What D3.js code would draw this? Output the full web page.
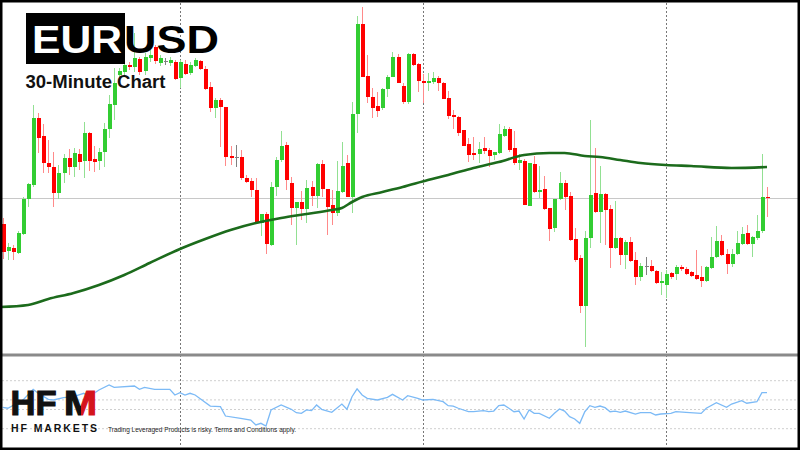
<!DOCTYPE html>
<html><head><meta charset="utf-8">
<script src="https://cdn.jsdelivr.net/npm/d3@7"></script>
<style>html,body{margin:0;padding:0;background:#fff;overflow:hidden}</style>
</head><body>
<svg id="c" width="800" height="450"></svg>
<script>
// ---- DATA (EURUSD, 30-minute candles) ----
const openP = [1.0776,1.0749,1.0752,1.0747,1.0766,1.0801,1.0815,1.0882,1.0864,1.0837,
1.0833,1.0807,1.0827,1.0842,1.0833,1.0846,1.0839,1.0867,1.0841,1.0839,
1.0848,1.0871,1.0895,1.0925,1.0928,1.0935,1.0933,1.0941,1.0929,1.0942,
1.0953,1.0937,1.0939,1.0937,1.0938,1.0922,1.0936,1.0927,1.0934,1.0939,
1.0931,1.0913,1.0892,1.0900,1.0893,1.0844,1.0843,1.0843,1.0822,1.0819,
1.0810,1.0777,1.0786,1.0755,1.0813,1.0840,1.0855,1.0817,1.0792,1.0798,
1.0791,1.0813,1.0804,1.0836,1.0811,1.0795,1.0787,1.0808,1.0837,1.0803,
1.0886,1.0976,1.0924,1.0903,1.0894,1.0892,1.0911,1.0923,1.0943,1.0914,
1.0898,1.0946,1.0936,1.0919,1.0917,1.0918,1.0922,1.0917,1.0902,1.0885,
1.0883,1.0870,1.0856,1.0847,1.0846,1.0852,1.0850,1.0845,1.0847,1.0864,
1.0871,1.0852,1.0837,1.0839,1.0794,1.0836,1.0808,1.0811,1.0792,1.0772,
1.0801,1.0817,1.0804,1.0761,1.0742,1.0694,1.0762,1.0807,1.0788,1.0806,
1.0791,1.0752,1.0762,1.0745,1.0758,1.0740,1.0723,1.0734,1.0734,1.0729,
1.0717,1.0715,1.0727,1.0726,1.0733,1.0731,1.0728,1.0725,1.0723,1.0719,
1.0732,1.0743,1.0759,1.0746,1.0736,1.0746,1.0756,1.0767,1.0756,1.0762,
1.0769,1.0803];
const highP = [1.0782,1.0757,1.0755,1.0769,1.0803,1.0817,1.0895,1.0887,1.0876,1.0860,
1.0848,1.0835,1.0846,1.0851,1.0852,1.0851,1.0878,1.0868,1.0854,1.0852,
1.0877,1.0905,1.0932,1.0932,1.0940,1.0938,1.0967,1.0943,1.0947,1.0950,
1.0955,1.0945,1.0942,1.0943,1.0940,1.0940,1.0940,1.0938,1.0942,1.0940,
1.0934,1.0918,1.0902,1.0902,1.0893,1.0854,1.0855,1.0850,1.0825,1.0822,
1.0822,1.0786,1.0788,1.0818,1.0843,1.0869,1.0858,1.0823,1.0798,1.0809,
1.0820,1.0819,1.0837,1.0840,1.0811,1.0810,1.0839,1.0858,1.0845,1.0898,
1.0984,1.0993,1.0945,1.0912,1.0908,1.0912,1.0925,1.0948,1.0946,1.0917,
1.0947,1.0947,1.0937,1.0926,1.0927,1.0928,1.0924,1.0918,1.0909,1.0890,
1.0884,1.0870,1.0862,1.0863,1.0858,1.0863,1.0852,1.0848,1.0876,1.0874,
1.0873,1.0869,1.0846,1.0841,1.0837,1.0844,1.0834,1.0824,1.0792,1.0801,
1.0828,1.0820,1.0808,1.0772,1.0745,1.0769,1.0880,1.0852,1.0834,1.0807,
1.0795,1.0799,1.0763,1.0760,1.0763,1.0748,1.0737,1.0743,1.0740,1.0730,
1.0728,1.0730,1.0728,1.0735,1.0735,1.0733,1.0729,1.0750,1.0734,1.0734,
1.0763,1.0774,1.0765,1.0751,1.0751,1.0769,1.0773,1.0775,1.0764,1.0785,
1.0846,1.0813];
const lowP = [1.0741,1.0740,1.0740,1.0746,1.0765,1.0793,1.0813,1.0847,1.0827,1.0827,
1.0793,1.0801,1.0817,1.0825,1.0823,1.0830,1.0822,1.0829,1.0828,1.0830,
1.0833,1.0862,1.0880,1.0916,1.0925,1.0930,1.0928,1.0925,1.0925,1.0938,
1.0936,1.0934,1.0935,1.0934,1.0920,1.0912,1.0925,1.0925,1.0933,1.0930,
1.0910,1.0888,1.0882,1.0853,1.0834,1.0835,1.0833,1.0820,1.0817,1.0803,
1.0777,1.0764,1.0746,1.0754,1.0804,1.0838,1.0810,1.0775,1.0755,1.0780,
1.0777,1.0794,1.0792,1.0803,1.0765,1.0775,1.0784,1.0807,1.0803,1.0787,
1.0867,1.0923,1.0897,1.0882,1.0883,1.0890,1.0903,1.0923,1.0917,1.0896,
1.0896,1.0934,1.0908,1.0897,1.0909,1.0916,1.0909,1.0901,1.0881,1.0871,
1.0864,1.0854,1.0838,1.0840,1.0837,1.0846,1.0833,1.0840,1.0846,1.0863,
1.0848,1.0835,1.0830,1.0795,1.0794,1.0807,1.0802,1.0790,1.0759,1.0768,
1.0800,1.0790,1.0759,1.0738,1.0687,1.0653,1.0752,1.0787,1.0757,1.0755,
1.0732,1.0751,1.0735,1.0731,1.0738,1.0715,1.0719,1.0725,1.0728,1.0716,
1.0705,1.0702,1.0721,1.0720,1.0729,1.0725,1.0723,1.0720,1.0713,1.0718,
1.0731,1.0742,1.0744,1.0726,1.0733,1.0745,1.0755,1.0755,1.0743,1.0760,
1.0767,1.0783];
const closeP = [1.0748,1.0753,1.0748,1.0767,1.0801,1.0816,1.0882,1.0862,1.0837,1.0833,
1.0807,1.0827,1.0842,1.0833,1.0847,1.0838,1.0867,1.0839,1.0838,1.0848,
1.0871,1.0896,1.0917,1.0929,1.0935,1.0933,1.0942,1.0928,1.0943,1.0945,
1.0939,1.0942,1.0939,1.0940,1.0921,1.0938,1.0926,1.0935,1.0940,1.0931,
1.0911,1.0892,1.0900,1.0893,1.0843,1.0842,1.0843,1.0822,1.0818,1.0810,
1.0777,1.0786,1.0756,1.0813,1.0840,1.0854,1.0820,1.0792,1.0798,1.0791,
1.0812,1.0804,1.0836,1.0811,1.0793,1.0787,1.0809,1.0834,1.0803,1.0886,
1.0976,1.0923,1.0903,1.0892,1.0889,1.0911,1.0923,1.0943,1.0917,1.0898,
1.0946,1.0935,1.0919,1.0917,1.0919,1.0922,1.0917,1.0901,1.0884,1.0883,
1.0867,1.0854,1.0845,1.0845,1.0851,1.0849,1.0844,1.0848,1.0866,1.0871,
1.0850,1.0837,1.0840,1.0795,1.0837,1.0808,1.0810,1.0791,1.0771,1.0801,
1.0817,1.0803,1.0760,1.0740,1.0694,1.0762,1.0805,1.0788,1.0806,1.0790,
1.0752,1.0762,1.0745,1.0758,1.0739,1.0723,1.0734,1.0734,1.0729,1.0717,
1.0719,1.0726,1.0723,1.0733,1.0731,1.0726,1.0724,1.0721,1.0719,1.0733,
1.0743,1.0759,1.0745,1.0736,1.0746,1.0757,1.0766,1.0756,1.0763,1.0769,
1.0803,1.0802];

// moving average (read at candle positions)
const maIdx = [-0.5,5,9,14,19,24,29,35,40,45,50,55,60,65,67,69,71,75,79,84,88,93,98,103,108,111,115,118,122,126,131,136,144,151];
const maVal = [1.0693,1.0695,1.0701,1.0707,1.0715,1.0725,1.0737,1.0751,1.0761,1.0770,1.0777,1.0782,1.0786,1.0790,1.0792,1.0798,1.0803,1.0808,1.0813,1.0820,1.0825,1.0832,1.0838,1.0845,1.0847,1.0847,1.0844,1.0843,1.0840,1.0837,1.0835,1.0834,1.0832,1.0833];

// oscillator (lower panel)
const oscIdx = [0,1,4,6,7,9,10,12,14,16,17,19,21,22,26,27,28,30,33,34,35,36,37,38,41,43,44,47,49,50,51,52,53,55,57,58,59,60,61,62,63,65,67,68,69,70,71,72,74,76,77,79,80,82,83,85,87,88,89,90,92,93,95,96,97,98,99,100,101,102,103,104,105,106,108,109,110,111,112,113,114,115,116,117,118,119,120,121,122,123,125,126,128,129,130,132,133,135,138,139,141,143,144,146,147,149,150,151];
const oscVal = [52.3,51.3,59.9,71.0,66.9,60.6,59.9,62.3,63.3,66.9,63.3,70.3,75.5,73.1,74.5,71.0,73.1,71.0,71.0,65.1,67.5,65.1,66.9,65.1,53.6,52.9,43.2,40.8,39.0,33.9,35.6,32.8,49.5,54.7,50.2,46.7,46.0,49.5,48.8,54.7,50.2,47.1,55.7,50.2,63.3,71.4,65.1,61.7,59.9,62.7,65.8,59.9,64.4,61.7,59.9,60.6,58.1,54.0,53.6,51.3,47.7,47.7,48.8,47.7,48.4,54.0,54.7,51.3,47.7,48.4,40.1,49.5,46.0,46.0,40.8,46.0,50.5,48.4,42.5,40.1,35.6,47.7,54.0,52.3,53.6,51.9,47.7,48.4,47.1,48.4,45.3,46.7,46.7,44.3,45.3,46.0,47.7,47.1,46.0,51.3,57.1,52.3,55.7,59.2,56.5,58.1,67.5,67.5];
const oscLevels = [80,60,50,30];
const sessionIdx = [35,83,131];

const titleLeft = "EUR", titleRight = "USD";
const subtitle = "30-Minute Chart";
const logoText = ["HF","M"];
const logoSub = "HF MARKETS";
const disclaimer = "Trading Leveraged Products is risky. Terms and Conditions apply.";

// ---- DRAW ----
const svg = d3.select("#c");
const W = 800, H = 450;
const FONT = "'Liberation Sans', Arial, Helvetica, sans-serif";
const n = closeP.length;
const x = d3.scaleLinear().domain([0, n-1]).range([2.8, 767]);
const y = d3.scaleLinear().domain([1.0648, 1.0997]).range([352, 3]);
const yo = d3.scaleLinear().domain([30, 80]).range([428.7, 380.7]);

svg.append("rect").attr("width", W).attr("height", H).attr("fill", "#fff");
const defs = svg.append("defs");
defs.append("clipPath").attr("id","mainClip").append("rect").attr("x",0).attr("y",3).attr("width",W).attr("height",350);
defs.append("clipPath").attr("id","oscClip").append("rect").attr("x",0).attr("y",357).attr("width",W).attr("height",90);
const mg = defs.append("linearGradient").attr("id","mgrad").attr("gradientUnits","userSpaceOnUse")
  .attr("x1",63).attr("x2",99).attr("y1",0).attr("y2",0);
mg.append("stop").attr("offset","0").attr("stop-color","#111");
mg.append("stop").attr("offset","0.5").attr("stop-color","#111");
mg.append("stop").attr("offset","0.5").attr("stop-color","#d4141c");
mg.append("stop").attr("offset","1").attr("stop-color","#d4141c");

// bid line
svg.append("line").attr("x1",2).attr("x2",798).attr("y1",Math.round(y(closeP[n-1]))+0.5).attr("y2",Math.round(y(closeP[n-1]))+0.5)
  .attr("stroke","#c8c8c8").attr("stroke-width",1);

// oscillator levels
svg.append("g").selectAll("line").data(oscLevels).join("line")
  .attr("x1",2).attr("x2",798).attr("y1",d=>yo(d)).attr("y2",d=>yo(d))
  .attr("stroke","#cfcfcf").attr("stroke-width",1).attr("stroke-dasharray","2,2");

// session separators
svg.append("g").selectAll("line").data(sessionIdx).join("line")
  .attr("x1",d=>Math.round(x(d))+0.5).attr("x2",d=>Math.round(x(d))+0.5).attr("y1",3).attr("y2",447)
  .attr("stroke","#777").attr("stroke-width",1).attr("stroke-dasharray","2,2");

// candles
const idx = d3.range(n);
const col = i => closeP[i] > openP[i] ? "#32cd32" : (closeP[i] < openP[i] ? "#ff0000" : "#808080");
const wcol = i => closeP[i] > openP[i] ? "#92e092" : (closeP[i] < openP[i] ? "#ff8a8a" : "#808080");
const cg = svg.append("g").attr("clip-path","url(#mainClip)");
cg.selectAll("line.w").data(idx).join("line").attr("class","w")
  .attr("x1",i=>Math.round(x(i))+0.5).attr("x2",i=>Math.round(x(i))+0.5)
  .attr("y1",i=>y(highP[i])).attr("y2",i=>y(lowP[i]))
  .attr("stroke",wcol).attr("stroke-width",1);
cg.selectAll("rect.b").data(idx).join("rect").attr("class","b")
  .attr("x",i=>Math.round(x(i))-1.5).attr("width",4)
  .attr("y",i=>y(Math.max(openP[i],closeP[i])))
  .attr("height",i=>Math.max(1, Math.abs(y(openP[i])-y(closeP[i]))))
  .attr("fill",col).attr("shape-rendering","crispEdges");

// moving average
cg.append("path").datum(maIdx.map((d,k)=>[d,maVal[k]]))
  .attr("d", d3.line().x(d=>x(d[0])).y(d=>y(d[1])).curve(d3.curveMonotoneX))
  .attr("fill","none").attr("stroke","#1c6b1c").attr("stroke-width",2.6);

// panel separator
svg.append("line").attr("x1",0).attr("x2",W).attr("y1",355).attr("y2",355).attr("stroke","#8a8a8a").attr("stroke-width",3);

// oscillator line
svg.append("g").attr("clip-path","url(#oscClip)").append("path")
  .datum(oscIdx.map((d,k)=>[d,oscVal[k]]))
  .attr("d", d3.line().x(d=>x(d[0])).y(d=>yo(d[1])))
  .attr("fill","none").attr("stroke","#7cbaf6").attr("stroke-width",1.3);

// title
svg.append("rect").attr("x",26).attr("y",13).attr("width",99).attr("height",51).attr("fill","#000");
svg.append("text").attr("x",32).attr("y",52.5).text(titleLeft)
  .attr("font-family",FONT).attr("font-weight","bold").attr("font-size",39).attr("fill","#fff")
  .attr("textLength",90).attr("lengthAdjust","spacingAndGlyphs");
svg.append("text").attr("x",124).attr("y",52.5).text(titleRight)
  .attr("font-family",FONT).attr("font-weight","bold").attr("font-size",39).attr("fill","#000")
  .attr("textLength",95).attr("lengthAdjust","spacingAndGlyphs");
svg.append("text").attr("x",25.5).attr("y",87.5).text(subtitle)
  .attr("font-family",FONT).attr("font-weight","bold").attr("font-size",17.5).attr("fill","#111")
  .attr("textLength",140).attr("lengthAdjust","spacingAndGlyphs");

// logo
svg.append("text").attr("x",10.5).attr("y",414.5).text(logoText[0])
  .attr("font-family",FONT).attr("font-weight","bold").attr("font-size",35).attr("fill","#111")
  .attr("stroke","#111").attr("stroke-width",1.2)
  .attr("textLength",46).attr("lengthAdjust","spacingAndGlyphs");
svg.append("text").attr("x",64).attr("y",414.5).text(logoText[1])
  .attr("font-family",FONT).attr("font-weight","bold").attr("font-size",35).attr("fill","url(#mgrad)")
  .attr("stroke","url(#mgrad)").attr("stroke-width",1.2)
  .attr("textLength",33).attr("lengthAdjust","spacingAndGlyphs");
svg.append("text").attr("x",11).attr("y",431.5).text(logoSub)
  .attr("font-family",FONT).attr("font-weight","bold").attr("font-size",10.5).attr("fill","#111")
  .attr("textLength",86).attr("lengthAdjust","spacing");
svg.append("text").attr("x",108).attr("y",431.5).text(disclaimer)
  .attr("font-family",FONT).attr("font-size",7).attr("fill","#222")
  .attr("textLength",188).attr("lengthAdjust","spacingAndGlyphs");

// frame
svg.append("rect").attr("x",1.25).attr("y",1.25).attr("width",W-2.5).attr("height",H-2.5)
  .attr("fill","none").attr("stroke","#000").attr("stroke-width",2.5);
</script>
</body></html>
